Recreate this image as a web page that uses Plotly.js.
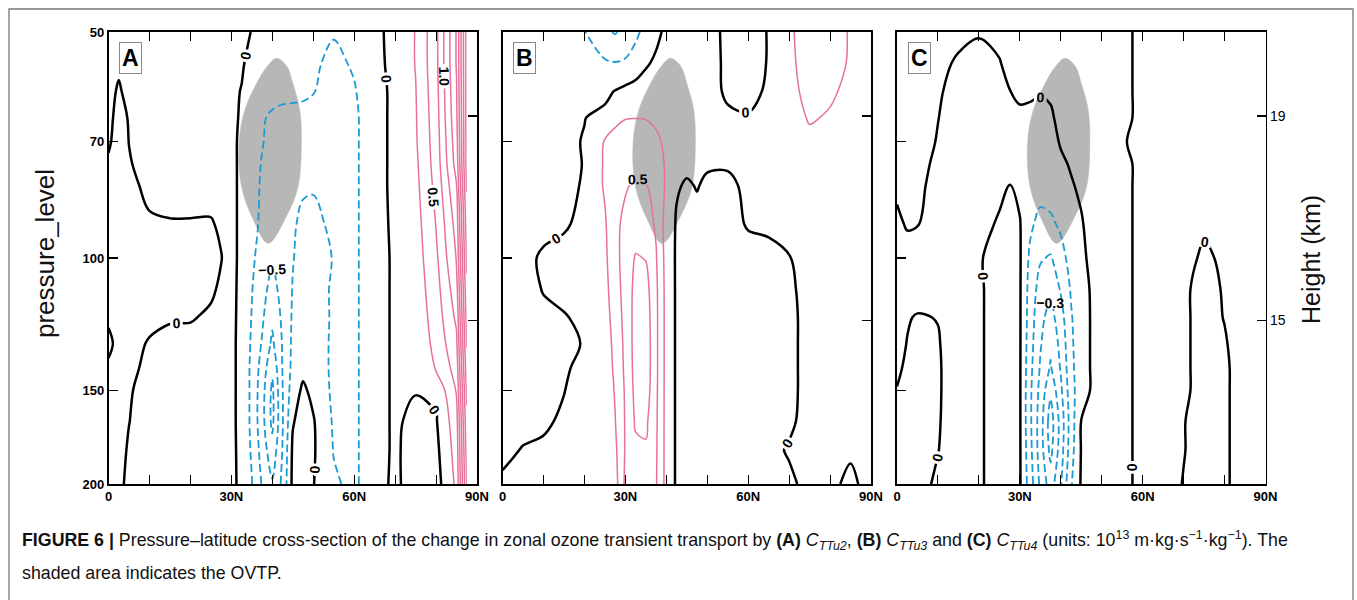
<!DOCTYPE html>
<html>
<head>
<meta charset="utf-8">
<script src="https://cdn.plot.ly/plotly-3.0.1.min.js"></script>
<style>
  html, body { margin: 0; padding: 0; background: #fff; }
  #fig { width: 1357px; height: 600px; }
</style>
</head>
<body>
<div id="fig"></div>
<script>
// Latitude (deg N) and pressure (hPa) grid shared by the three cross-sections
const lat = [0, 2.5, 5, 10, 15, 20, 25, 27.5, 30, 32.5, 35, 37.5, 40, 42.5, 45, 47.5, 50, 55, 60, 65, 70, 75, 80, 85, 87.5];
const pres = [50, 55, 60, 65, 70, 75, 80, 90, 100, 110, 120, 130, 140, 150, 165, 180, 200];

// Change in zonal ozone transient transport (10^13 m·kg·s^-1·kg^-1); one row per pressure level
const cTTu2 = [
  [0.05, 0.05, 0.06, 0.08, 0.1, 0.1, 0.1, 0.1, 0.12, 0.08, -0.01, -0.08, -0.12, -0.14, -0.15, -0.16, -0.18, -0.23, -0.16, -0.04, 0.05, 0.26, 0.68, 1.52, 2.6],
  [0.05, 0.03, 0.05, 0.08, 0.1, 0.1, 0.1, 0.1, 0.1, 0.03, -0.08, -0.13, -0.16, -0.18, -0.19, -0.2, -0.21, -0.31, -0.22, -0.05, 0.05, 0.26, 0.68, 1.52, 2.6],
  [0.05, -0.02, 0.05, 0.08, 0.1, 0.1, 0.1, 0.09, 0.05, -0.01, -0.12, -0.15, -0.18, -0.2, -0.21, -0.22, -0.24, -0.35, -0.27, -0.08, 0.05, 0.24, 0.66, 1.48, 2.6],
  [0.04, -0.05, 0.01, 0.07, 0.09, 0.09, 0.08, 0.08, 0.06, -0.03, -0.15, -0.23, -0.28, -0.3, -0.3, -0.3, -0.32, -0.38, -0.3, -0.08, 0.05, 0.23, 0.64, 1.45, 2.6],
  [0.02, -0.06, 0.002, 0.06, 0.08, 0.08, 0.07, 0.07, 0.06, -0.05, -0.2, -0.24, -0.3, -0.32, -0.32, -0.32, -0.33, -0.37, -0.3, -0.08, 0.05, 0.22, 0.62, 1.4, 2.6],
  [-0.02, -0.06, -0.01, 0.05, 0.07, 0.07, 0.06, 0.06, 0.06, -0.05, -0.18, -0.26, -0.32, -0.33, -0.33, -0.32, -0.32, -0.35, -0.3, -0.08, 0.05, 0.2, 0.6, 1.35, 2.6],
  [-0.04, -0.07, -0.04, 0.04, 0.06, 0.06, 0.05, 0.06, 0.06, -0.05, -0.19, -0.27, -0.35, -0.34, -0.32, -0.28, -0.27, -0.33, -0.3, -0.08, 0.05, 0.18, 0.57, 1.24, 2.52],
  [-0.08, -0.08, -0.07, -0.02, -0.01, -0.01, -0.01, 0.02, 0.06, -0.05, -0.2, -0.28, -0.38, -0.33, -0.28, -0.2, -0.19, -0.3, -0.3, -0.08, 0.04, 0.15, 0.51, 1.1, 2.4],
  [-0.08, -0.08, -0.08, -0.05, -0.04, -0.03, -0.02, -0.005, 0.06, -0.05, -0.22, -0.32, -0.47, -0.33, -0.26, -0.18, -0.16, -0.26, -0.3, -0.08, 0.03, 0.13, 0.45, 1.02, 2.3],
  [-0.06, -0.07, -0.07, -0.05, -0.04, -0.03, -0.02, 0.02, 0.06, -0.06, -0.24, -0.4, -0.6, -0.4, -0.24, -0.17, -0.15, -0.28, -0.3, -0.08, 0.03, 0.11, 0.4, 0.9, 2.2],
  [-0.02, -0.05, -0.05, -0.03, -0.01, -0.01, 0.02, 0.04, 0.06, -0.07, -0.26, -0.46, -0.7, -0.45, -0.22, -0.15, -0.14, -0.28, -0.3, -0.08, 0.03, 0.09, 0.36, 0.8, 2.1],
  [0.03, -0.04, -0.04, 0.01, 0.03, 0.04, 0.05, 0.05, 0.06, -0.08, -0.28, -0.52, -0.8, -0.48, -0.2, -0.12, -0.13, -0.29, -0.3, -0.08, 0.03, 0.07, 0.32, 0.7, 2.02],
  [-0.02, -0.04, -0.03, 0.03, 0.04, 0.05, 0.05, 0.05, 0.06, -0.08, -0.3, -0.6, -0.95, -0.49, -0.18, -0.06, -0.1, -0.3, -0.3, -0.08, 0.03, 0.05, 0.27, 0.6, 1.9],
  [-0.03, -0.03, -0.01, 0.04, 0.05, 0.05, 0.05, 0.05, 0.06, -0.08, -0.3, -0.65, -1.05, -0.51, -0.12, 0.04, -0.06, -0.3, -0.3, -0.08, 0.03, 0.01, 0.05, 0.52, 1.8],
  [-0.03, -0.02, -0.002, 0.05, 0.05, 0.05, 0.05, 0.05, 0.06, -0.08, -0.3, -0.66, -1.06, -0.52, -0.02, 0.1, 0.02, -0.28, -0.3, -0.08, 0.03, -0.05, -0.02, 0.4, 1.7],
  [-0.03, -0.03, 0.01, 0.05, 0.05, 0.05, 0.05, 0.05, 0.06, -0.07, -0.28, -0.6, -0.92, -0.49, 0.04, 0.12, 0.03, -0.26, -0.3, -0.08, 0.03, -0.08, -0.06, 0.35, 1.6],
  [-0.03, -0.02, 0.02, 0.05, 0.05, 0.05, 0.05, 0.05, 0.06, -0.06, -0.24, -0.52, -0.72, -0.45, 0.06, 0.12, 0.01, -0.22, -0.3, -0.08, 0.04, -0.1, -0.1, 0.3, 1.52]
];

const cTTu3 = [
  [-0.05, -0.05, -0.06, -0.08, -0.15, -0.24, -0.45, -0.52, -0.42, -0.3, -0.18, -0.06, 0.05, 0.08, 0.08, 0.06, 0.05, -0.03, -0.08, 0.01, 0.2, 0.4, 0.4, 0.22, 0.15],
  [-0.05, -0.05, -0.06, -0.08, -0.12, -0.17, -0.22, -0.24, -0.22, -0.15, -0.03, 0.04, 0.08, 0.1, 0.1, 0.08, 0.06, -0.03, -0.07, 0.01, 0.2, 0.35, 0.36, 0.22, 0.15],
  [-0.05, -0.05, -0.06, -0.07, -0.08, -0.07, -0.05, 0.01, 0.06, 0.1, 0.12, 0.13, 0.13, 0.12, 0.1, 0.08, 0.05, -0.02, -0.04, 0.02, 0.18, 0.32, 0.28, 0.2, 0.15],
  [-0.05, -0.05, -0.05, -0.06, -0.04, -0.005, 0.05, 0.2, 0.24, 0.245, 0.24, 0.2, 0.15, 0.12, 0.1, 0.08, 0.06, 0.02, 0.01, 0.04, 0.15, 0.27, 0.23, 0.15, 0.12],
  [-0.05, -0.05, -0.05, -0.05, -0.04, 0.01, 0.27, 0.32, 0.36, 0.38, 0.36, 0.3, 0.2, 0.14, 0.12, 0.1, 0.08, 0.07, 0.06, 0.06, 0.1, 0.2, 0.18, 0.12, 0.1],
  [-0.05, -0.05, -0.05, -0.05, -0.035, 0.005, 0.28, 0.36, 0.42, 0.45, 0.44, 0.36, 0.22, 0.1, 0.04, 0.05, 0.02, 0.01, 0.05, 0.05, 0.08, 0.1, 0.1, 0.08, 0.08],
  [-0.05, -0.05, -0.05, -0.04, -0.03, 0.01, 0.28, 0.4, 0.48, 0.53, 0.51, 0.4, 0.22, 0.02, -0.02, 0.01, -0.03, -0.02, 0.02, 0.04, 0.06, 0.08, 0.08, 0.08, 0.08],
  [-0.05, -0.05, -0.04, -0.03, -0.02, 0.04, 0.22, 0.45, 0.55, 0.62, 0.6, 0.47, 0.15, -0.02, -0.04, -0.05, -0.05, -0.04, 0.01, 0.02, 0.04, 0.06, 0.07, 0.08, 0.08],
  [-0.04, -0.04, -0.03, 0.015, 0.05, 0.07, 0.2, 0.42, 0.6, 0.77, 0.74, 0.52, 0.16, -0.03, -0.05, -0.06, -0.06, -0.06, -0.04, -0.03, -0.005, 0.05, 0.07, 0.08, 0.08],
  [-0.04, -0.04, -0.04, 0.005, 0.04, 0.06, 0.18, 0.38, 0.6, 0.82, 0.84, 0.55, 0.17, -0.03, -0.05, -0.06, -0.06, -0.06, -0.05, -0.04, -0.02, 0.04, 0.06, 0.07, 0.07],
  [-0.04, -0.04, -0.04, -0.02, -0.01, 0.03, 0.15, 0.35, 0.58, 0.84, 0.88, 0.56, 0.17, -0.03, -0.05, -0.06, -0.06, -0.06, -0.05, -0.04, -0.03, 0.04, 0.06, 0.07, 0.07],
  [-0.04, -0.04, -0.04, -0.03, -0.02, 0.005, 0.12, 0.32, 0.56, 0.85, 0.9, 0.56, 0.17, -0.03, -0.05, -0.06, -0.06, -0.06, -0.05, -0.04, -0.03, 0.04, 0.06, 0.07, 0.07],
  [-0.04, -0.04, -0.04, -0.03, -0.01, 0.02, 0.1, 0.3, 0.55, 0.84, 0.9, 0.56, 0.17, -0.03, -0.05, -0.06, -0.06, -0.06, -0.05, -0.04, -0.03, 0.04, 0.06, 0.07, 0.07],
  [-0.04, -0.04, -0.04, -0.02, -0.002, 0.03, 0.08, 0.27, 0.53, 0.82, 0.88, 0.55, 0.17, -0.03, -0.05, -0.06, -0.06, -0.06, -0.05, -0.04, -0.03, 0.04, 0.06, 0.07, 0.07],
  [-0.04, -0.04, -0.03, -0.01, 0.01, 0.03, 0.06, 0.24, 0.52, 0.78, 0.8, 0.54, 0.17, -0.03, -0.05, -0.06, -0.06, -0.06, -0.05, -0.04, -0.02, 0.04, 0.06, 0.06, 0.06],
  [-0.03, -0.01, 0.005, 0.01, 0.02, 0.03, 0.05, 0.2, 0.52, 0.7, 0.72, 0.53, 0.17, -0.03, -0.04, -0.05, -0.05, -0.05, -0.05, -0.03, 0.01, 0.04, 0.05, 0.02, 0.04],
  [0.02, 0.03, 0.03, 0.03, 0.03, 0.03, 0.05, 0.15, 0.55, 0.65, 0.66, 0.52, 0.17, -0.03, -0.04, -0.05, -0.05, -0.05, -0.05, -0.03, -0.02, 0.03, 0.03, -0.03, 0.01]
];

const cTTu4 = [
  [0.03, 0.03, 0.03, 0.02, 0.01, 0.005, 0.01, 0.02, 0.03, 0.04, 0.04, 0.04, 0.04, 0.04, 0.04, 0.04, 0.03, 0.01, -0.01, -0.02, -0.03, -0.03, -0.03, -0.03, -0.03],
  [0.03, 0.03, 0.03, 0.01, -0.005, -0.02, -0.002, 0.01, 0.02, 0.03, 0.03, 0.03, 0.03, 0.03, 0.03, 0.03, 0.02, 0.01, -0.01, -0.02, -0.03, -0.03, -0.03, -0.03, -0.03],
  [0.03, 0.03, 0.025, 0.005, -0.015, -0.025, -0.02, -0.001, 0.01, 0.01, 0.005, 0.005, 0.02, 0.03, 0.03, 0.03, 0.02, 0.01, -0.01, -0.02, -0.03, -0.03, -0.03, -0.03, -0.03],
  [0.03, 0.03, 0.02, 0.001, -0.02, -0.03, -0.03, -0.02, -0.01, -0.015, -0.02, -0.005, 0.01, 0.03, 0.03, 0.03, 0.02, 0.01, -0.01, -0.02, -0.03, -0.03, -0.03, -0.03, -0.03],
  [0.03, 0.03, 0.02, -0.003, -0.025, -0.035, -0.035, -0.03, -0.025, -0.03, -0.03, -0.02, 0.005, 0.03, 0.03, 0.03, 0.02, 0.003, -0.01, -0.02, -0.03, -0.03, -0.03, -0.03, -0.03],
  [0.02, 0.025, 0.015, -0.01, -0.03, -0.04, -0.04, -0.035, -0.03, -0.035, -0.04, -0.03, -0.01, 0.005, 0.03, 0.03, 0.02, 0.01, -0.01, -0.02, -0.03, -0.03, -0.03, -0.03, -0.03],
  [0.01, 0.02, 0.01, -0.015, -0.035, -0.045, -0.02, 0.003, -0.02, -0.04, -0.06, -0.05, -0.03, -0.005, 0.01, 0.03, 0.02, 0.01, -0.01, -0.02, -0.03, -0.03, -0.03, -0.03, -0.03],
  [-0.01, 0.005, 0.002, -0.02, -0.04, -0.03, 0.01, 0.02, 0.005, -0.08, -0.13, -0.12, -0.08, -0.04, -0.005, 0.02, 0.02, 0.01, -0.01, -0.02, -0.03, -0.01, -0.03, -0.03, -0.03],
  [-0.02, -0.02, -0.02, -0.03, -0.03, -0.005, 0.02, 0.03, 0.01, -0.12, -0.19, -0.21, -0.14, -0.06, -0.01, 0.01, 0.02, 0.01, -0.01, -0.02, -0.02, 0.01, -0.01, -0.03, -0.03],
  [-0.03, -0.03, -0.03, -0.04, -0.04, -0.01, 0.03, 0.03, 0.01, -0.14, -0.24, -0.28, -0.19, -0.09, -0.02, 0.005, 0.02, 0.01, -0.01, -0.02, -0.01, 0.02, -0.005, -0.03, -0.03],
  [-0.02, -0.005, 0.005, -0.002, -0.04, -0.01, 0.03, 0.03, 0.01, -0.15, -0.27, -0.34, -0.24, -0.11, -0.03, 0.005, 0.02, 0.01, -0.01, -0.02, -0.01, 0.02, -0.002, -0.03, -0.03],
  [-0.02, 0.002, 0.01, 0.005, -0.04, -0.01, 0.03, 0.03, 0.01, -0.16, -0.29, -0.38, -0.27, -0.12, -0.03, 0.005, 0.02, 0.01, -0.01, -0.02, -0.01, 0.02, 0.005, -0.03, -0.03],
  [-0.01, 0.01, 0.015, 0.008, -0.04, -0.01, 0.03, 0.03, 0.01, -0.17, -0.31, -0.41, -0.29, -0.13, -0.03, 0.005, 0.02, 0.01, -0.01, -0.02, -0.01, 0.02, 0.01, -0.03, -0.03],
  [0.002, 0.015, 0.02, 0.008, -0.04, -0.01, 0.03, 0.03, 0.01, -0.18, -0.33, -0.48, -0.32, -0.14, -0.03, 0.005, 0.02, 0.01, -0.01, -0.02, -0.01, 0.02, 0.01, -0.03, -0.03],
  [0.01, 0.02, 0.02, 0.006, -0.04, -0.01, 0.03, 0.03, 0.01, -0.18, -0.35, -0.55, -0.36, -0.15, 0.002, 0.005, 0.02, 0.01, -0.01, -0.02, -0.002, 0.02, 0.01, -0.03, -0.03],
  [0.01, 0.02, 0.02, 0.002, -0.04, -0.01, 0.03, 0.03, 0.01, -0.17, -0.35, -0.53, -0.35, -0.14, 0.005, 0.01, 0.02, 0.01, -0.01, -0.02, -0.002, 0.02, 0.01, -0.03, -0.03],
  [0.01, 0.02, 0.02, -0.01, -0.04, -0.01, 0.03, 0.03, 0.01, -0.15, -0.32, -0.45, -0.31, -0.11, 0.01, 0.01, 0.02, 0.01, -0.01, -0.02, 0.002, 0.02, 0.01, -0.03, -0.03]
];

// Outline of the OVTP region (latitude, pressure)
const ovtpLat = [41, 43.5, 45, 46.7, 47.1, 46.3, 43.4, 39, 35.4, 32.5, 31.9, 33.3, 36.2, 38.6, 41];
const ovtpPres = [54.2, 55.5, 58.5, 63.5, 69.6, 80.4, 88.1, 95.6, 89, 80.4, 70.2, 63.5, 58.5, 55.7, 54.2];

// Axis ticks
const latTicks = [0, 30, 60, 90];
const latTickText = ['0', '30N', '60N', '90N'];
const latMinorTicks = [10, 20, 40, 50, 70, 80];
const presTicks = [50, 70, 100, 150, 200];
const heightKm = [19, 15];
const heightPres = [64.7, 121.1];
const panelLetters = ['A', 'B', 'C'];

const W = 1357, H = 600;
const FONT = 'Liberation Sans, Arial, Helvetica, sans-serif';
const BLUE = '#1b9ad4';
const PINK = '#e7709c';
const xPix = [[108.5, 477], [502.5, 871], [897, 1265.5]];
const yDomain = [1 - 484 / H, 1 - 32 / H];
const presRange = [Math.log10(200), Math.log10(50)];

function contourSet(z, xa, ya, start, end, size, style) {
  return {
    type: 'contour', x: lat, y: pres, z: z, xaxis: xa, yaxis: ya,
    autocontour: false,
    contours: {
      start: start, end: end, size: size, coloring: 'none',
      showlabels: !!style.labels,
      labelfont: { family: FONT, size: 14, color: '#000', weight: 'bold' },
      labelformat: style.fmt || '.1f'
    },
    line: { color: style.color, width: style.width, dash: style.dash || 'solid', smoothing: 1 },
    showscale: false, hoverinfo: 'skip'
  };
}

const zeroStyle = { color: '#000', width: 2.5, labels: true, fmt: '.0f' };
const blueStyle = { color: BLUE, width: 1.8, dash: '8px,4px' };
const blueLabelled = { color: BLUE, width: 1.8, dash: '8px,4px', labels: true };
const pinkStyle = { color: PINK, width: 1.5 };
const pinkLabelled = { color: PINK, width: 1.5, labels: true };

const traces = [];
const axes = [['x', 'y', 'y4'], ['x2', 'y2', 'y5'], ['x3', 'y3', 'y6']];

// shaded OVTP region under the contour lines
axes.forEach(function (a) {
  traces.push({
    type: 'scatter', mode: 'lines', x: ovtpLat, y: ovtpPres, xaxis: a[0], yaxis: a[1],
    fill: 'toself', fillcolor: '#b7b7b7', line: { color: '#b7b7b7', width: 0.5, shape: 'spline' },
    hoverinfo: 'skip', showlegend: false
  });
});

// (A) C_TTu2
traces.push(contourSet(cTTu2, 'x', 'y4', -0.75, -0.25, 0.5, blueStyle));
traces.push(contourSet(cTTu2, 'x', 'y4', -1.0, -0.5, 0.5, blueLabelled));
traces.push(contourSet(cTTu2, 'x', 'y4', 0.25, 0.75, 0.5, pinkStyle));
traces.push(contourSet(cTTu2, 'x', 'y4', 0.5, 1.0, 0.5, pinkLabelled));
traces.push(contourSet(cTTu2, 'x', 'y4', 1.25, 2.5, 0.25, pinkStyle));
traces.push(contourSet(cTTu2, 'x', 'y4', 0, 0, 1, zeroStyle));
// (B) C_TTu3
traces.push(contourSet(cTTu3, 'x2', 'y5', -0.5, -0.25, 0.25, blueStyle));
traces.push(contourSet(cTTu3, 'x2', 'y5', 0.25, 0.75, 0.5, pinkStyle));
traces.push(contourSet(cTTu3, 'x2', 'y5', 0.5, 0.5, 0.5, pinkLabelled));
traces.push(contourSet(cTTu3, 'x2', 'y5', 0, 0, 1, zeroStyle));
// (C) C_TTu4
traces.push(contourSet(cTTu4, 'x3', 'y6', -0.5, -0.4, 0.1, blueStyle));
traces.push(contourSet(cTTu4, 'x3', 'y6', -0.2, -0.1, 0.1, blueStyle));
traces.push(contourSet(cTTu4, 'x3', 'y6', -0.3, -0.3, 0.1, blueLabelled));
traces.push(contourSet(cTTu4, 'x3', 'y6', 0, 0, 1, zeroStyle));

const layout = {
  width: W, height: H,
  margin: { l: 0, r: 0, t: 0, b: 0 },
  paper_bgcolor: '#fff', plot_bgcolor: '#fff',
  font: { family: FONT, size: 13, color: '#111' },
  showlegend: false,
  annotations: [],
  shapes: [{
    type: 'rect', xref: 'paper', yref: 'paper',
    x0: 9 / W, x1: 1353 / W, y0: -0.2, y1: 1 - 9 / H,
    line: { color: '#777', width: 1.3 }, fillcolor: 'rgba(0,0,0,0)'
  }]
};

const tickFont = { family: FONT, size: 13, color: '#000', weight: 'bold' };

axes.forEach(function (a, i) {
  const xn = a[0].replace('x', 'xaxis');
  const yn = a[1].replace('y', 'yaxis');
  const on = a[2].replace('y', 'yaxis');
  layout[xn] = {
    domain: [xPix[i][0] / W, xPix[i][1] / W], anchor: a[1], range: [0, 90],
    showline: true, linecolor: '#000', linewidth: 1.6, mirror: 'allticks',
    ticks: 'inside', ticklen: 9, tickwidth: 1.3, tickcolor: '#000',
    tickmode: 'array', tickvals: latTicks, ticktext: latTickText, tickfont: tickFont,
    minor: { tickmode: 'array', tickvals: latMinorTicks, ticks: 'inside', ticklen: 4, tickwidth: 1.1, tickcolor: '#000', showgrid: false },
    showgrid: false, zeroline: false, fixedrange: true
  };
  layout[yn] = {
    domain: yDomain, anchor: a[0], type: 'log', range: presRange,
    showline: true, linecolor: '#000', linewidth: 1.6,
    ticks: 'inside', ticklen: 9, tickwidth: 1.3, tickcolor: '#000',
    tickmode: 'array', tickvals: presTicks, ticktext: presTicks.map(String),
    showticklabels: i === 0, tickfont: tickFont,
    showgrid: false, zeroline: false, fixedrange: true
  };
  layout[on] = {
    overlaying: a[1], anchor: a[0], side: 'right', type: 'log', range: presRange,
    showline: true, linecolor: '#000', linewidth: 1.6,
    ticks: 'inside', ticklen: 9, tickwidth: 1.3, tickcolor: '#000',
    tickmode: 'array', tickvals: heightPres, ticktext: heightKm.map(String),
    showticklabels: i === 2, tickfont: { family: FONT, size: 14, color: '#000' },
    showgrid: false, zeroline: false, fixedrange: true
  };
  layout.annotations.push({
    xref: a[0] + ' domain', yref: a[1] + ' domain', x: 0.06, y: 0.943,
    xanchor: 'center', yanchor: 'middle', showarrow: false,
    text: '<b>' + panelLetters[i] + '</b>', font: { family: FONT, size: 23, color: '#000' },
    bgcolor: '#fff', bordercolor: '#888', borderwidth: 1, borderpad: 2
  });
});

// axis titles
layout.annotations.push({
  xref: 'paper', yref: 'paper', x: 45 / W, y: 1 - 254 / H, xanchor: 'center', yanchor: 'middle',
  textangle: -90, showarrow: false, text: 'pressure_level',
  font: { family: FONT, size: 26, color: '#111' }
});
layout.annotations.push({
  xref: 'paper', yref: 'paper', x: 1311 / W, y: 1 - 260 / H, xanchor: 'center', yanchor: 'middle',
  textangle: -90, showarrow: false, text: 'Height (km)',
  font: { family: FONT, size: 25, color: '#111' }
});

// figure caption
layout.annotations.push({
  xref: 'paper', yref: 'paper', x: 20 / W, y: 1 - 540 / H, xanchor: 'left', yanchor: 'middle',
  showarrow: false, align: 'left',
  text: '<b>FIGURE 6 |</b> Pressure–latitude cross-section of the change in zonal ozone transient transport by ' +
        '<b>(A)</b> <i>C</i><sub><i>TTu2</i></sub>, <b>(B)</b> <i>C</i><sub><i>TTu3</i></sub> and ' +
        '<b>(C)</b> <i>C</i><sub><i>TTu4</i></sub> (units: 10<sup>13</sup> m·kg·s<sup>−1</sup>·kg<sup>−1</sup>). The',
  font: { family: FONT, size: 17.8, color: '#111' }
});
layout.annotations.push({
  xref: 'paper', yref: 'paper', x: 20 / W, y: 1 - 573 / H, xanchor: 'left', yanchor: 'middle',
  showarrow: false, align: 'left', text: 'shaded area indicates the OVTP.',
  font: { family: FONT, size: 17.8, color: '#111' }
});

Plotly.newPlot('fig', traces, layout, { staticPlot: true, displayModeBar: false });
</script>
</body>
</html>
